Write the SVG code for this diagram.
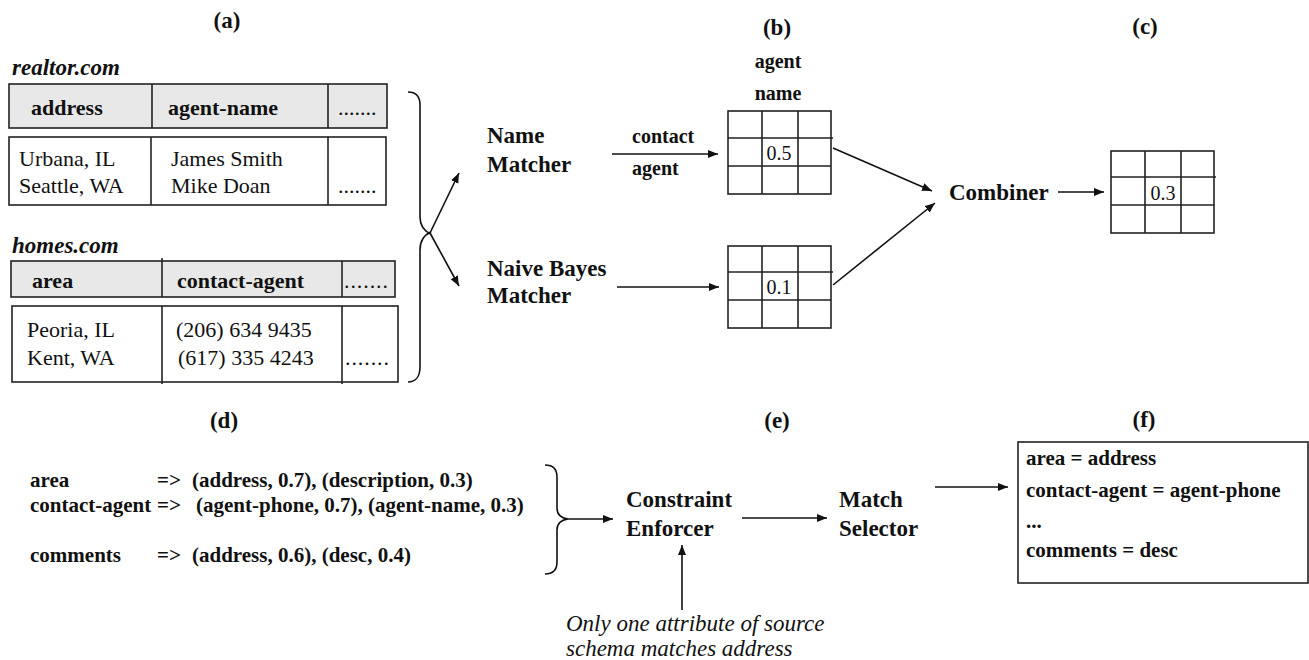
<svg xmlns="http://www.w3.org/2000/svg" width="1309" height="660" viewBox="0 0 1309 660">
<style>
text{font-family:"Liberation Serif","Times New Roman",serif;fill:#111}
.t{font-size:23px;font-weight:bold}
.site{font-size:23px;font-weight:bold;font-style:italic}
.h{font-size:22px;font-weight:bold}
.d{font-size:22px}
.lb{font-size:23px;font-weight:bold}
.sm{font-size:20px;font-weight:bold}
.num{font-size:20px}
.m{font-size:21px;font-weight:bold}
.note{font-size:23px;font-style:italic}
.box{fill:#fff;stroke:#222;stroke-width:1.6}
.hdr{fill:#e8e8e8;stroke:#222;stroke-width:1.6}
.ln{stroke:#222;stroke-width:1.6;fill:none}
.c{stroke:#111;stroke-width:1.6;fill:none}
.mid{text-anchor:middle}
</style>
<defs>
<marker id="ah" markerUnits="userSpaceOnUse" markerWidth="11" markerHeight="9" refX="10" refY="4" orient="auto"><path d="M0,0 L10,4 L0,8 z" fill="#111"/></marker>
</defs>
<rect width="1309" height="660" fill="#fff"/>

<g id="titles">
<text class="t mid" x="227" y="28">(a)</text>
<text class="t mid" x="777" y="35">(b)</text>
<text class="t mid" x="1145" y="34">(c)</text>
<text class="t mid" x="224" y="428">(d)</text>
<text class="t mid" x="777" y="428">(e)</text>
<text class="t mid" x="1144" y="427">(f)</text>
</g>

<g id="realtor">
<text class="site" x="12" y="75">realtor.com</text>
<rect class="hdr" x="9" y="84" width="378" height="44"/>
<line class="ln" x1="152" y1="84" x2="152" y2="128"/>
<line class="ln" x1="328" y1="84" x2="328" y2="128"/>
<text class="h" x="31" y="115">address</text>
<text class="h" x="168" y="115">agent-name</text>
<text class="d" x="338" y="115">.......</text>
<rect class="box" x="9" y="137" width="377" height="68"/>
<line class="ln" x1="151" y1="137" x2="151" y2="205"/>
<line class="ln" x1="328" y1="137" x2="328" y2="205"/>
<text class="d" x="19" y="166">Urbana, IL</text>
<text class="d" x="19" y="193">Seattle, WA</text>
<text class="d" x="171" y="166">James Smith</text>
<text class="d" x="171" y="193">Mike Doan</text>
<text class="d" x="338" y="193">.......</text>
</g>

<g id="homes">
<text class="site" x="12" y="253">homes.com</text>
<rect class="hdr" x="11" y="261" width="384" height="36"/>
<line class="ln" x1="162" y1="258" x2="162" y2="297"/>
<line class="ln" x1="342" y1="261" x2="342" y2="297"/>
<text class="h" x="32" y="288">area</text>
<text class="h" x="177" y="288">contact-agent</text>
<text class="d" x="344" y="288" textLength="44">.......</text>
<rect class="box" x="12" y="306" width="386" height="76"/>
<line class="ln" x1="162" y1="306" x2="162" y2="384"/>
<line class="ln" x1="342" y1="306" x2="342" y2="384"/>
<text class="d" x="27" y="337">Peoria, IL</text>
<text class="d" x="27" y="365">Kent, WA</text>
<text class="d" x="176" y="337">(206) 634 9435</text>
<text class="d" x="178" y="365">(617) 335 4243</text>
<text class="d" x="345" y="365" textLength="44">.......</text>
</g>

<g id="name-matcher">
<text class="lb" x="487" y="143">Name</text>
<text class="lb" x="487" y="172">Matcher</text>
</g>
<g id="naive-bayes">
<text class="lb" x="487" y="276">Naive Bayes</text>
<text class="lb" x="487" y="303">Matcher</text>
</g>

<g id="grid-b1">
<text class="sm mid" x="778" y="68">agent</text>
<text class="sm mid" x="778" y="100">name</text>
<rect class="box" x="728" y="111" width="103" height="83"/>
<path class="ln" d="M762,111V194M798,111V194M728,138H833M728,166H831"/>
<text class="num mid" x="779" y="160">0.5</text>
</g>
<g id="grid-b2">
<rect class="box" x="728" y="246" width="103" height="82"/>
<path class="ln" d="M762,246V328M798,246V328M728,272H833M728,300H831"/>
<text class="num mid" x="779" y="294">0.1</text>
</g>

<g id="combiner">
<text class="lb" x="949" y="200">Combiner</text>
</g>
<g id="grid-c">
<rect class="box" x="1111" y="151" width="103" height="82"/>
<path class="ln" d="M1145,151V233M1181,151V233M1111,177H1216M1111,205H1214"/>
<text class="num mid" x="1163" y="200">0.3</text>
</g>

<g id="predictions">
<text class="m" x="30" y="487">area</text>
<text class="m" x="157" y="487">=&gt;</text>
<text class="m" x="192" y="487">(address, 0.7), (description, 0.3)</text>
<text class="m" x="30" y="512">contact-agent</text>
<text class="m" x="157" y="512">=&gt;</text>
<text class="m" x="196" y="512">(agent-phone, 0.7), (agent-name, 0.3)</text>
<text class="m" x="30" y="562">comments</text>
<text class="m" x="157" y="562">=&gt;</text>
<text class="m" x="192" y="562">(address, 0.6), (desc, 0.4)</text>
</g>

<g id="constraint-enforcer">
<text class="lb" x="626" y="507">Constraint</text>
<text class="lb" x="626" y="536">Enforcer</text>
</g>
<g id="match-selector">
<text class="lb" x="839" y="507">Match</text>
<text class="lb" x="839" y="536">Selector</text>
</g>
<g id="constraint-note">
<text class="note" x="566" y="631">Only one attribute of source</text>
<text class="note" x="566" y="656">schema matches address</text>
</g>

<g id="result">
<rect class="box" x="1018" y="442" width="290" height="141"/>
<text class="m" x="1026" y="465">area = address</text>
<text class="m" x="1026" y="497">contact-agent = agent-phone</text>
<text class="m" x="1026" y="528">...</text>
<text class="m" x="1026" y="557">comments = desc</text>
</g>

<g id="connectors">
<path class="c" d="M408,92 C416,92 420,97 420,105 L420,217 C420,226 424,231 431,234 M431,232 C424,235 420,240 420,250 L420,367 C420,376 416,382 408,382"/>
<path class="c" d="M430,233 L459,173" marker-end="url(#ah)"/>
<path class="c" d="M430,233 L459,286" marker-end="url(#ah)"/>
<path class="c" d="M612,154 L718,154" marker-end="url(#ah)"/>
<text class="sm" x="632" y="143">contact</text>
<text class="sm" x="632" y="175">agent</text>
<path class="c" d="M617,287 L719,287" marker-end="url(#ah)"/>
<path class="c" d="M833,148 L932,191" marker-end="url(#ah)"/>
<path class="c" d="M833,285 L935,203" marker-end="url(#ah)"/>
<path class="c" d="M1058,192 L1104,192" marker-end="url(#ah)"/>
<path class="c" d="M545,465 C553,465 557,469 557,477 L557,508 C557,515 561,518 568,519 C561,520 557,523 557,530 L557,562 C557,570 553,574 545,574"/>
<path class="c" d="M568,519 L613,519" marker-end="url(#ah)"/>
<path class="c" d="M742,518 L827,518" marker-end="url(#ah)"/>
<path class="c" d="M682,610 L682,545" marker-end="url(#ah)"/>
<path class="c" d="M935,487 L1008,487" marker-end="url(#ah)"/>
</g>
</svg>
